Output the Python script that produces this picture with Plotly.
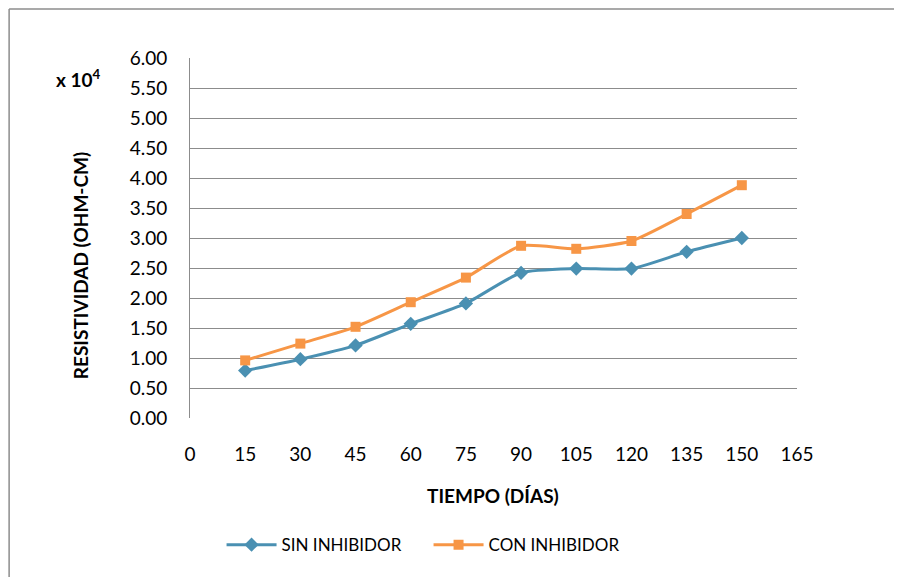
import plotly.graph_objects as go

dias = [15, 30, 45, 60, 75, 90, 105, 120, 135, 150]
sin_inhibidor = [0.79, 0.98, 1.21, 1.57, 1.91, 2.42, 2.49, 2.49, 2.77, 3.00]
con_inhibidor = [0.96, 1.24, 1.52, 1.93, 2.34, 2.87, 2.82, 2.95, 3.40, 3.88]
x_ticks = list(range(0, 166, 15))
y_ticks = [i * 0.5 for i in range(13)]

FONT = "Lato, 'Open Sans', sans-serif"
BLUE = "#4A90B2"
ORANGE = "#F79646"
GRID = "#8C8C8C"

fig = go.Figure()
fig.add_trace(go.Scatter(
    x=dias, y=sin_inhibidor, name="SIN INHIBIDOR", mode="lines+markers",
    line=dict(color=BLUE, width=3, shape="spline", smoothing=0.6),
    marker=dict(symbol="diamond", size=11, color=BLUE),
))
fig.add_trace(go.Scatter(
    x=dias, y=con_inhibidor, name="CON INHIBIDOR", mode="lines+markers",
    line=dict(color=ORANGE, width=3, shape="spline", smoothing=0.6),
    marker=dict(symbol="square", size=10, color=ORANGE),
))

# page body adds an 8px offset; margins compensate for it
fig.update_layout(
    width=902, height=577,
    margin=dict(l=182, r=113, t=50, b=167),
    paper_bgcolor="white", plot_bgcolor="white",
    font=dict(family=FONT, size=19, color="#000000"),
    showlegend=True,
    legend=dict(orientation="h", x=0.393, xref="paper", xanchor="center",
                y=-0.353, yanchor="middle", font=dict(size=17, family=FONT),
                itemwidth=50, entrywidth=142, entrywidthmode="pixels",
                traceorder="normal"),
    xaxis=dict(range=[0, 165], tickvals=x_ticks, ticktext=[str(v) for v in x_ticks],
               showgrid=False, zeroline=False, showline=False, ticks="",
               ticklabelstandoff=23, tickfont=dict(size=19, family=FONT)),
    yaxis=dict(range=[0, 6], tickvals=y_ticks, ticktext=[f"{v:.2f}" for v in y_ticks],
               showgrid=True, gridcolor=GRID, gridwidth=1, zeroline=False,
               showline=True, linecolor=GRID, linewidth=1, ticks="",
               ticklabelstandoff=18, tickfont=dict(size=19, family=FONT)),
)

fig.add_annotation(text="<b>RESISTIVIDAD (OHM-CM)</b>", textangle=-90,
                   xref="paper", yref="paper", x=-0.181, y=0.422,
                   xanchor="center", yanchor="middle", showarrow=False,
                   font=dict(size=19, family=FONT))
fig.add_annotation(text="<b>TIEMPO (DÍAS)</b>", xref="paper", yref="paper",
                   x=0.499, y=-0.214, xanchor="center", yanchor="middle",
                   showarrow=False, font=dict(size=19, family=FONT))
fig.add_annotation(text="<b>x 10<sup>4</sup></b>", xref="paper", yref="paper",
                   x=-0.183, y=0.944, xanchor="center", yanchor="middle",
                   showarrow=False, font=dict(size=19, family=FONT))

# outer chart border (top and left edges visible)
fig.add_shape(type="line", xref="paper", yref="paper", x0=-0.298, x1=1.3,
              y0=1.136, y1=1.136, line=dict(color=GRID, width=1.5))
fig.add_shape(type="line", xref="paper", yref="paper", x0=-0.298, x1=-0.298,
              y0=1.136, y1=-0.5, line=dict(color=GRID, width=1.5))

fig.write_html("out.html")
